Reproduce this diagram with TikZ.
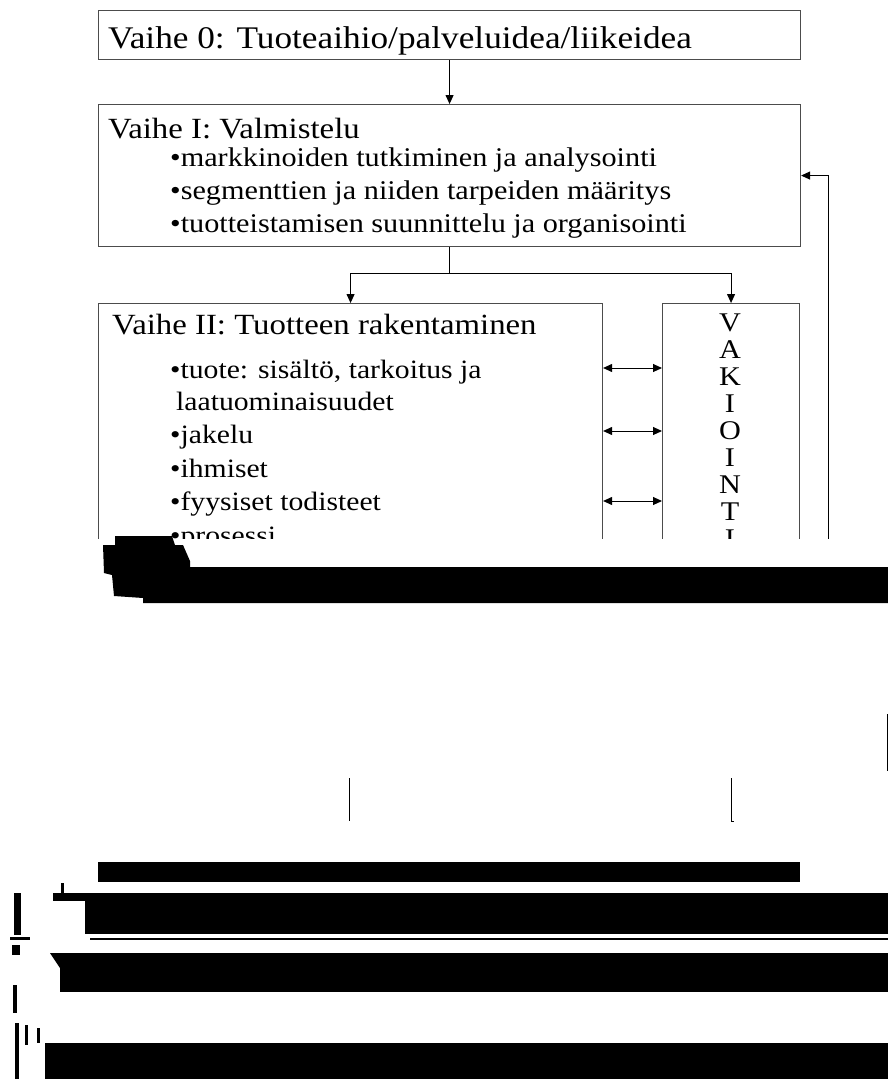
\documentclass[tikz,border=0pt]{standalone}
\usepackage{fontspec}
\setmainfont{Liberation Serif}[FakeStretch=1.12]
\usetikzlibrary{arrows.meta}
\begin{document}
\begin{tikzpicture}[x=1pt,y=-1pt,
  box/.style={draw=black!70, line width=1.1pt, inner sep=0pt, anchor=north west},
  conn/.style={line width=1pt, -{Triangle[length=9pt,width=8pt]}},
  plain/.style={line width=1pt},
  both/.style={line width=1pt, {Triangle[length=9pt,width=8pt]}-{Triangle[length=9pt,width=8pt]}},
  ttl/.style={anchor=base west, inner sep=0pt, font=\fontsize{31.5}{34}\selectfont},
  ttlb/.style={anchor=base west, inner sep=0pt, font=\fontsize{29.3}{32}\selectfont},
  itm/.style={anchor=base west, inner sep=0pt, font=\fontsize{27}{30}\selectfont},
  itmb/.style={anchor=base west, inner sep=0pt, font=\fontsize{26.5}{30}\selectfont},
  vch/.style={anchor=base, inner sep=0pt, font=\fontsize{27}{27}\selectfont},
  bar/.style={fill=black, draw=none}]
\useasboundingbox (0,0) rectangle (888,1079);
\fill[white] (0,0) rectangle (888,1079);

% upper part of the chart, cut off along a horizontal line
\begin{scope}
\clip (0,0) rectangle (888,538);
\node[box, minimum width=702pt, minimum height=49pt] (b0) at (98,10) {};
\node[box, minimum width=702pt, minimum height=142pt] (b1) at (98,104) {};
\node[box, minimum width=504pt, minimum height=400pt] (b2) at (98,303) {};
\node[box, minimum width=137pt, minimum height=400pt] (bv) at (662,303) {};

\node[ttl] (t0) at (108,48) {Vaihe 0: Tuoteaihio/palveluidea/liikeidea};

\node[ttlb] (t1) at (108,138) {Vaihe I: Valmistelu};
\node[itm] (i11) at (170,166) {•markkinoiden tutkiminen ja analysointi};
\node[itm] (i12) at (170,199) {•segmenttien ja niiden tarpeiden määritys};
\node[itm] (i13) at (170,232) {•tuotteistamisen suunnittelu ja organisointi};

\node[ttlb] (t2) at (112,334) {Vaihe II: Tuotteen rakentaminen};
\node[itmb] (i21) at (170,378) {•tuote: sisältö, tarkoitus ja};
\node[itmb] (i22) at (176,410) {laatuominaisuudet};
\node[itmb] (i23) at (170,443) {•jakelu};
\node[itmb] (i24) at (170,477) {•ihmiset};
\node[itmb] (i25) at (170,510) {•fyysiset todisteet};
\node[itmb] (i26) at (170,544) {•prosessi};

\foreach \l [count=\i] in {V,A,K,I,O,I,N,T,I}
  \node[vch] (v\i) at (730,{331+27*(\i-1)}) {\l};

\draw[conn] (b0.south) -- (b1.north);
\coordinate (split) at ([yshift=-26pt]b1.south);
\draw[plain] (b1.south) -- (split);
\draw[conn] (split) -| (b2.north);
\draw[conn] (split) -| (bv.north);

\coordinate (r1) at (0,368);
\coordinate (r2) at (0,431);
\coordinate (r3) at (0,501);
\draw[both] (b2.east |- r1) -- (bv.west |- r1);
\draw[both] (b2.east |- r2) -- (bv.west |- r2);
\draw[both] (b2.east |- r3) -- (bv.west |- r3);

\coordinate (fb) at (828,560);
\draw[conn] (fb) |- (b1.east);
\end{scope}

% remaining fragments of the lower part
\fill[bar] (103,545) -- (115,545) -- (115,536) -- (172,536) -- (175,545)
  -- (183,545) -- (190,561) -- (190,567) -- (888,567) -- (888,603)
  -- (143,603) -- (143,598) -- (114,596) -- (112,575) -- (104,573) -- cycle;
\fill[bar] (98,862) rectangle (800,882);
\fill[bar] (85,893) rectangle (888,934);
\fill[bar] (53,893) rectangle (86,901);
\fill[bar] (90,938) rectangle (888,940);
\fill[bar] (60,953) rectangle (888,992);
\fill[bar] (50,953) -- (60,953) -- (60,968) -- (56,962) -- cycle;
\fill[bar] (45,1043) rectangle (888,1079);
% stray marks at the far left
\fill[bar] (14,893) rectangle (21,935);
\fill[bar] (10,937) rectangle (30,940);
\fill[bar] (12,945) rectangle (20,955);
\fill[bar] (13,985) rectangle (17,1013);
\fill[bar] (15,1023) rectangle (19,1079);
\fill[bar] (25,1025) rectangle (28,1045);
\fill[bar] (37,1028) rectangle (40,1043);
\fill[bar] (61,883) rectangle (64,893);

\coordinate (s1) at (349,778);
\coordinate (s2) at (349,821);
\coordinate (s3) at (731,778);
\coordinate (s4) at (731,821);
\coordinate (s5) at (887,714);
\coordinate (s6) at (887,771);
\draw[plain] (s1) -- (s2);
\draw[plain] (s3) -- (s4) -- ++(3,0);
\draw[plain] (s5) -- (s6);
\end{tikzpicture}
\end{document}
